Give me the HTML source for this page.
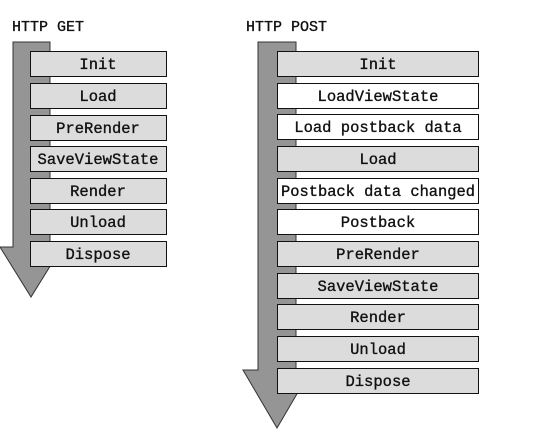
<!DOCTYPE html>
<html><head><style>html,body{margin:0;padding:0;background:#fff;}</style></head><body>
<svg width="557" height="439" xmlns="http://www.w3.org/2000/svg" font-family="Liberation Mono, monospace" font-size="15.5">
<g stroke="#333" stroke-width="1" fill="#959595">
<polygon points="13,42 50,42 50,247 62,247 31,297 0,247 13,247"/>
<polygon points="258,42 296,42 296,370 311,370 277,428 243,370 258,370"/>
</g>
<g fill="#111" stroke="#111" stroke-width="0.35">
<text x="12" y="31" font-size="15">HTTP GET</text>
<text x="246" y="31" font-size="15">HTTP POST</text>
</g>
<g stroke="#111" stroke-width="1" text-anchor="middle">
<g fill="#dcdcdc">
<rect x="30.5" y="51.5" width="136" height="25"/>
<rect x="30.5" y="83.5" width="136" height="25"/>
<rect x="30.5" y="115.5" width="136" height="25"/>
<rect x="30.5" y="146.5" width="136" height="25"/>
<rect x="30.5" y="178.5" width="136" height="25"/>
<rect x="30.5" y="209.5" width="136" height="25"/>
<rect x="30.5" y="241.5" width="136" height="25"/>
</g>
<g fill="#dcdcdc">
<rect x="277.5" y="51.5" width="201" height="25"/>
<rect x="277.5" y="146.5" width="201" height="25"/>
<rect x="277.5" y="241.5" width="201" height="25"/>
<rect x="277.5" y="273.5" width="201" height="25"/>
<rect x="277.5" y="304.5" width="201" height="25"/>
<rect x="277.5" y="336.5" width="201" height="25"/>
<rect x="277.5" y="368.5" width="201" height="25"/>
</g>
<g fill="#fff">
<rect x="277.5" y="83.5" width="201" height="25"/>
<rect x="277.5" y="114.5" width="201" height="25"/>
<rect x="277.5" y="178.5" width="201" height="25"/>
<rect x="277.5" y="209.5" width="201" height="25"/>
</g>
</g>
<g fill="#111" text-anchor="middle" stroke="#111" stroke-width="0.35">
<text x="98" y="69">Init</text>
<text x="98" y="101">Load</text>
<text x="98" y="133">PreRender</text>
<text x="98" y="164">SaveViewState</text>
<text x="98" y="196">Render</text>
<text x="98" y="227">Unload</text>
<text x="98" y="259">Dispose</text>
<text x="378" y="69">Init</text>
<text x="378" y="101">LoadViewState</text>
<text x="378" y="132">Load postback data</text>
<text x="378" y="164">Load</text>
<text x="378" y="196" textLength="194" lengthAdjust="spacingAndGlyphs">Postback data changed</text>
<text x="378" y="227">Postback</text>
<text x="378" y="259">PreRender</text>
<text x="378" y="291">SaveViewState</text>
<text x="378" y="322">Render</text>
<text x="378" y="354">Unload</text>
<text x="378" y="386">Dispose</text>
</g>
</svg>
</body></html>
